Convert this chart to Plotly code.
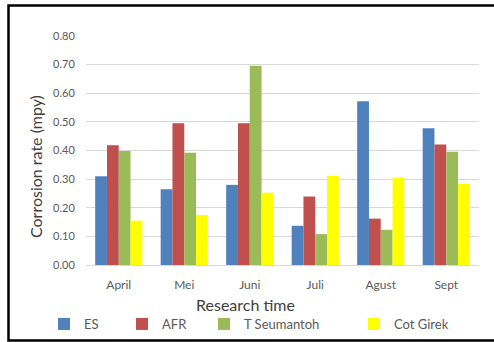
import plotly.graph_objects as go

# Monthly corrosion rate per site (mpy)
months = ["April", "Mei", "Juni", "Juli", "Agust", "Sept"]
es = [0.31, 0.265, 0.28, 0.137, 0.572, 0.478]
afr = [0.418, 0.495, 0.495, 0.239, 0.162, 0.421]
t_seumantoh = [0.398, 0.392, 0.696, 0.108, 0.123, 0.396]
cot_girek = [0.155, 0.175, 0.252, 0.311, 0.304, 0.284]

series = [
    ("ES", es, "#4f81bd"),
    ("AFR", afr, "#c0504d"),
    ("T Seumantoh", t_seumantoh, "#9bbb59"),
    ("Cot Girek", cot_girek, "#ffff00"),
]
y_ticks = [0.0, 0.1, 0.2, 0.3, 0.4, 0.5, 0.6, 0.7, 0.8]

W, H = 494, 342
L, R, T, B = 86, 15, 36, 77
PW, PH = W - L - R, H - T - B

def px_x(px):
    return (px - L) / PW

def px_y(py):
    return (H - B - py) / PH

FONT = "Lato, Open Sans, sans-serif"
GREY = "#595959"

fig = go.Figure()
legend_x = [44, 122, 204, 354]
for i, ((name, vals, color), lx) in enumerate(zip(series, legend_x)):
    lg = "legend" if i == 0 else f"legend{i + 1}"
    fig.add_trace(go.Bar(
        x=months, y=vals, name=name,
        marker=dict(color=color, line=dict(width=0)),
        legend=lg,
    ))
    fig.update_layout({lg: dict(
        x=px_x(lx), y=px_y(324), xanchor="left", yanchor="middle",
        orientation="h", bgcolor="rgba(0,0,0,0)",
        font=dict(family=FONT, size=13, color=GREY),
    )})

fig.update_layout(
    width=W, height=H,
    margin=dict(l=L, r=R, t=T, b=B, autoexpand=False),
    paper_bgcolor="white", plot_bgcolor="white",
    barmode="group", bargap=0.28, bargroupgap=0,
    showlegend=True,
    xaxis=dict(
        showgrid=False, showline=True, linecolor="#d9d9d9", linewidth=1,
        tickfont=dict(family=FONT, size=12, color=GREY),
        ticks="outside", ticklen=9, tickcolor="rgba(0,0,0,0)",
        zeroline=False,
    ),
    yaxis=dict(
        range=[0, 0.8], tickvals=y_ticks, tickformat=".2f",
        showgrid=True, gridcolor="#d9d9d9", gridwidth=1,
        zeroline=False, showline=False,
        tickfont=dict(family=FONT, size=11, color=GREY),
        ticks="outside", ticklen=8, tickcolor="rgba(0,0,0,0)",
    ),
    font=dict(family=FONT),
)

# Axis titles
fig.add_annotation(
    text="Research time", xref="paper", yref="paper",
    x=px_x(245), y=px_y(304), xanchor="center", yanchor="middle",
    showarrow=False, font=dict(family=FONT, size=16, color="#404040"),
)
fig.add_annotation(
    text="Corrosion rate (mpy)", xref="paper", yref="paper",
    x=px_x(35), y=px_y(167), xanchor="center", yanchor="middle",
    textangle=-90, showarrow=False,
    font=dict(family=FONT, size=16, color="#404040"),
)

# Chart frame
fig.add_shape(
    type="rect", xref="paper", yref="paper",
    x0=px_x(8.5), x1=px_x(498), y0=px_y(340.5), y1=px_y(5.5),
    line=dict(color="black", width=2.5), fillcolor="rgba(0,0,0,0)",
    layer="above",
)

fig.write_html("out.html")
